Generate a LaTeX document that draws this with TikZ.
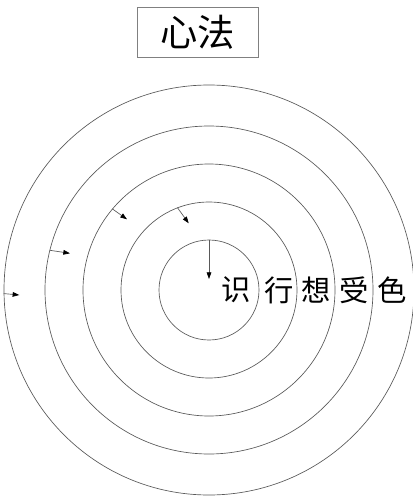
\documentclass[tikz,border=0pt]{standalone}
\usepackage{fontspec}
\newfontfamily\cjk{Noto Sans CJK SC}
\usetikzlibrary{arrows.meta}
\tikzstyle{ring}=[draw=black!65, circle, inner sep=0pt, line width=0.5pt]
\tikzstyle{pointer}=[draw=black!65, line width=0.5pt, -{Triangle[length=5pt, width=3.5pt, color=black]}]
\tikzstyle{ring label}=[font=\cjk\fontsize{22}{22}\selectfont, inner sep=0pt]
\tikzstyle{title box}=[draw=black!50, semithick, minimum width=90.75pt, minimum height=37.5pt, font=\cjk\fontsize{28}{28}\selectfont]

\begin{document}
\begin{tikzpicture}[x=0.75pt, y=-0.75pt]
  \useasboundingbox (0, 0) rectangle (412, 500);
  \node[title box] (title) at (197.5, 32) {心法};
  \coordinate (centre) at (209, 290);
  \node[ring, minimum size=75pt] (ring 1) at (centre) {};
  \node[ring, minimum size=132pt] (ring 2) at (centre) {};
  \node[ring, minimum size=189pt] (ring 3) at (centre) {};
  \node[ring, minimum size=246pt] (ring 4) at (centre) {};
  \node[ring, minimum size=307.5pt] (ring 5) at (centre) {};
  \node[ring label] (shi) at (236, 290) {识};
  \node[ring label] (xing) at (279, 290) {行};
  \node[ring label] (xiang) at (316, 290) {想};
  \node[ring label] (shou) at (354, 290) {受};
  \node[ring label] (se) at (392, 290) {色};
  \coordinate (tip 1) at (209, 279);
  \coordinate (tip 2) at (188.7, 223.3);
  \coordinate (tip 3) at (127, 219.3);
  \coordinate (tip 4) at (70, 253.3);
  \coordinate (tip 5) at (19.3, 295);
  \draw[pointer] (ring 1.90) -- (tip 1);
  \draw[pointer] (ring 2.111) -- (tip 2);
  \draw[pointer] (ring 3.140) -- (tip 3);
  \draw[pointer] (ring 4.166) -- (tip 4);
  \draw[pointer] (ring 5.181) -- (tip 5);
\end{tikzpicture}
\end{document}
